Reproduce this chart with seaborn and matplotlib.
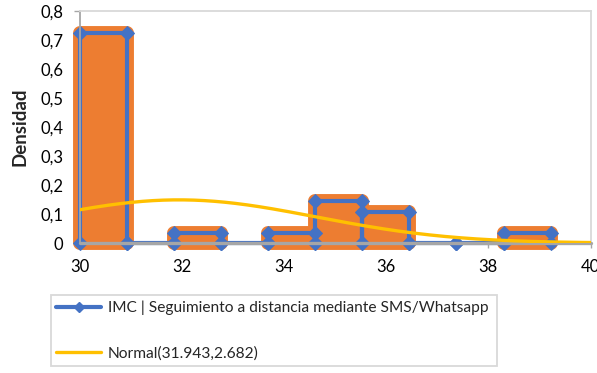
import numpy as np
import matplotlib.pyplot as plt
from matplotlib.lines import Line2D
import seaborn as sns

# Histograma de IMC (densidad) y ajuste normal
bin_edges = [30.0, 30.922, 31.844, 32.766, 33.688, 34.61, 35.532, 36.454, 37.376, 38.298, 39.22]
densities = [0.723, 0.0, 0.036, 0.0, 0.036, 0.145, 0.108, 0.0, 0.0, 0.036]
normal_mu = 31.943
normal_sigma = 2.682
x_ticks = [30, 32, 34, 36, 38, 40]
y_ticks = [0, 0.1, 0.2, 0.3, 0.4, 0.5, 0.6, 0.7, 0.8]
y_ticklabels = ["0", "0,1", "0,2", "0,3", "0,4", "0,5", "0,6", "0,7", "0,8"]
hist_label = "IMC | Seguimiento a distancia mediante SMS/Whatsapp"
normal_label = "Normal(31.943,2.682)"

sns.set_theme(style="white")
plt.rcParams['font.family'] = ['Lato', 'DejaVu Sans']

ORANGE = "#ED7D31"
BLUE = "#4472C4"
YELLOW = "#FFC000"
GRAY = "#A6A6A6"
LIGHT = "#D9D9D9"

fig = plt.figure(figsize=(5.97, 3.73), dpi=100)
ax = fig.add_axes([79.5 / 597, 1 - 243 / 373, 511 / 597, 232 / 373])

# barras naranjas (solo las no vacías)
lefts = np.array(bin_edges[:-1])
widths = np.diff(bin_edges)
dens = np.array(densities)
nz = dens > 0
ax.bar(lefts[nz], dens[nz], width=widths[nz], align="edge", color=ORANGE,
       edgecolor=ORANGE, linewidth=10, joinstyle="round", clip_on=False, zorder=1)

# contorno del histograma como serie de líneas
px, py = [], []
for l, r, h in zip(bin_edges[:-1], bin_edges[1:], densities):
    px += [l, l, r, r]
    py += [0, h, h, 0]
sns.lineplot(x=px, y=py, sort=False, estimator=None, color=BLUE, linewidth=3,
             marker="D", markersize=7, markeredgecolor=BLUE, ax=ax,
             clip_on=False, zorder=2)

# eje x en y=0
ax.axhline(0, color=GRAY, linewidth=2.4, zorder=3, clip_on=False)

# curva normal
xs = np.linspace(30, 40, 300)
ys = np.exp(-0.5 * ((xs - normal_mu) / normal_sigma) ** 2) / (normal_sigma * np.sqrt(2 * np.pi))
sns.lineplot(x=xs, y=ys, color=YELLOW, linewidth=2.4, ax=ax, zorder=4)

ax.set_xlim(30, 40)
ax.set_ylim(0, 0.8)
ax.set_xticks(x_ticks)
ax.set_yticks(y_ticks)
ax.set_yticklabels(y_ticklabels)
ax.tick_params(axis="both", labelsize=12, colors=GRAY, labelcolor="black")
ax.tick_params(axis="y", direction="out", length=4.5, width=1, pad=7, left=True)
ax.tick_params(axis="x", direction="out", length=3.5, width=1, pad=8, bottom=True)

ax.spines["bottom"].set_visible(False)
ax.spines["left"].set_color(GRAY)
ax.spines["left"].set_linewidth(1.3)
for s in ["top", "right"]:
    ax.spines[s].set_color(LIGHT)
    ax.spines[s].set_linewidth(1.3)

ax.set_xlabel("")
ax.set_ylabel("Densidad", fontsize=13.5, fontweight="bold")
ax.yaxis.set_label_coords(-0.10, 0.5)

handles = [
    Line2D([], [], color=BLUE, linewidth=3, marker="D", markersize=5),
    Line2D([], [], color=YELLOW, linewidth=2.4),
]
labels = [hist_label, normal_label]
y_bot = 4 / 373
y_top = 1 - 295 / 373
leg = fig.legend(handles, labels, loc="upper left",
                 bbox_to_anchor=(51 / 597, y_bot, 446 / 597, y_top - y_bot),
                 mode="expand", borderaxespad=0, fontsize=11.2, labelspacing=2.0,
                 handlelength=2.85, handletextpad=0.45, borderpad=0.35, numpoints=1,
                 frameon=True, fancybox=False, edgecolor=LIGHT, framealpha=1)
leg.get_frame().set_linewidth(1.3)

fig.savefig("out.png", dpi=100)
